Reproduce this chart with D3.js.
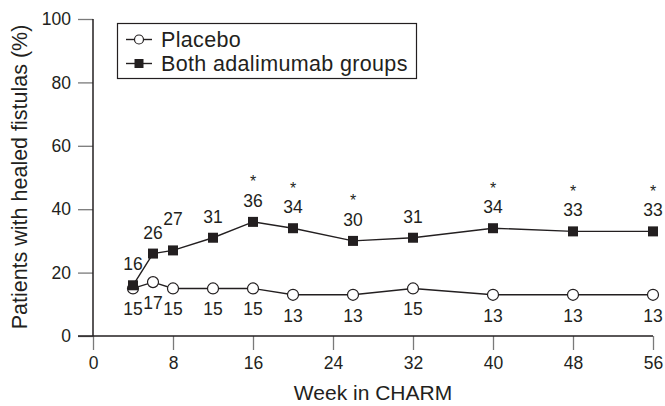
<!DOCTYPE html>
<html>
<head>
<meta charset="utf-8">
<script src="https://cdn.jsdelivr.net/npm/d3@7"></script>
<style>
  html, body { margin: 0; padding: 0; background: #fff; }
  svg { display: block; }
  text { font-family: "Liberation Sans", Arial, Helvetica, sans-serif; fill: #231f20; }
</style>
</head>
<body>
<svg id="chart" width="665" height="406"></svg>
<script>
// ---- data ----
const weeks = [4, 6, 8, 12, 16, 20, 26, 32, 40, 48, 56];
const placebo = [15, 17, 15, 15, 15, 13, 13, 15, 13, 13, 13];
const adalimumab = [16, 26, 27, 31, 36, 34, 30, 31, 34, 33, 33];
const significant = [false, false, false, false, true, true, true, false, true, true, true];
const xTicks = [0, 8, 16, 24, 32, 40, 48, 56];
const yTicks = [0, 20, 40, 60, 80, 100];
const seriesNames = ["Placebo", "Both adalimumab groups"];
const xTitle = "Week in CHARM";
const yTitle = "Patients with healed fistulas (%)";

// ---- layout ----
const svg = d3.select("#chart");
const x = d3.scaleLinear().domain([0, 56]).range([93, 653]);
const y = d3.scaleLinear().domain([0, 100]).range([336, 19]);
const ink = "#231f20";
const tickGray = "#7a7a7a";
const labelSize = 17.5;

// y axis
const yAxis = svg.append("g").attr("transform", `translate(${x(0)},0)`)
  .call(d3.axisLeft(y).tickValues(yTicks).tickSize(15).tickPadding(7));
yAxis.select(".domain").remove();
yAxis.selectAll(".tick line").attr("stroke", tickGray).attr("stroke-width", 1.3);
yAxis.selectAll(".tick text").attr("font-size", labelSize).attr("fill", ink)
  .style("font-family", '"Liberation Sans", Arial, sans-serif');

// x axis
const xAxis = svg.append("g").attr("transform", `translate(0,${y(0)})`)
  .call(d3.axisBottom(x).tickValues(xTicks).tickSize(14).tickPadding(7));
xAxis.select(".domain").remove();
xAxis.selectAll(".tick line").attr("stroke", tickGray).attr("stroke-width", 1.3);
xAxis.selectAll(".tick text").attr("font-size", labelSize).attr("fill", ink)
  .style("font-family", '"Liberation Sans", Arial, sans-serif');

// axis lines
svg.append("line").attr("x1", x(0)).attr("x2", x(0)).attr("y1", y(100)).attr("y2", y(0))
  .attr("stroke", ink).attr("stroke-width", 1.5);
svg.append("line").attr("x1", x(0) - 15).attr("x2", x(56)).attr("y1", y(0)).attr("y2", y(0))
  .attr("stroke", ink).attr("stroke-width", 1.5);

// titles
svg.append("text").attr("x", 373).attr("y", 400).attr("text-anchor", "middle")
  .attr("font-size", 21).text(xTitle);
svg.append("text").attr("transform", "translate(27,177) rotate(-90)")
  .attr("text-anchor", "middle").attr("font-size", 21.5).text(yTitle);

// lines
const line = d3.line().x(d => x(d[0])).y(d => y(d[1]));
const pData = weeks.map((w, i) => [w, placebo[i]]);
const aData = weeks.map((w, i) => [w, adalimumab[i], significant[i]]);

svg.append("path").datum(pData).attr("d", line).attr("fill", "none")
  .attr("stroke", ink).attr("stroke-width", 1.4);
svg.append("path").datum(aData).attr("d", line).attr("fill", "none")
  .attr("stroke", ink).attr("stroke-width", 1.4);

// placebo markers
svg.selectAll("circle.p").data(pData).enter().append("circle")
  .attr("cx", d => x(d[0])).attr("cy", d => y(d[1])).attr("r", 5.5)
  .attr("fill", "#fff").attr("stroke", ink).attr("stroke-width", 1.2);

// adalimumab markers
const sq = 10;
svg.selectAll("rect.a").data(aData).enter().append("rect")
  .attr("x", d => x(d[0]) - sq / 2).attr("y", d => y(d[1]) - sq / 2)
  .attr("width", sq).attr("height", sq).attr("fill", ink);

// placebo labels (below points)
svg.selectAll("text.pl").data(pData).enter().append("text")
  .attr("x", d => x(d[0])).attr("y", d => y(d[1]) + 27)
  .attr("text-anchor", "middle").attr("font-size", labelSize).text(d => d[1]);

// adalimumab labels (above points), nudged upward when crowding a neighbour
const digitH = 12.5, labelW = 20;
let prev = null;
aData.forEach(d => {
  const cx = x(d[0]);
  let base = y(d[1]) - 15;
  if (prev && Math.abs(cx - prev.cx) < labelW + 1 && base > prev.base - digitH - 1 && base - digitH < prev.base) {
    base = prev.base - digitH - 1;
  }
  prev = { cx, base };
  svg.append("text").attr("x", cx).attr("y", base)
    .attr("text-anchor", "middle").attr("font-size", labelSize).text(d[1]);
  if (d[2]) {
    svg.append("text").attr("x", cx).attr("y", base - 19.5)
      .attr("text-anchor", "middle").attr("font-size", 16).text("*");
  }
});

// legend
const lg = svg.append("g");
lg.append("rect").attr("x", 117.5).attr("y", 23.5).attr("width", 299).attr("height", 55)
  .attr("fill", "#fff").attr("stroke", ink).attr("stroke-width", 1.2);
const rows = [39.5, 63.5];
rows.forEach((ry, i) => {
  lg.append("line").attr("x1", 126).attr("x2", 152).attr("y1", ry).attr("y2", ry)
    .attr("stroke", ink).attr("stroke-width", 1.4);
  if (i === 0) {
    lg.append("circle").attr("cx", 139).attr("cy", ry).attr("r", 4.5)
      .attr("fill", "#fff").attr("stroke", ink).attr("stroke-width", 1.2);
  } else {
    lg.append("rect").attr("x", 134.5).attr("y", ry - 4.5).attr("width", 9).attr("height", 9)
      .attr("fill", ink);
  }
  lg.append("text").attr("x", 161).attr("y", ry + 7.5).attr("font-size", 21.5)
    .attr("letter-spacing", 0.35).text(seriesNames[i]);
});
</script>
</body>
</html>
